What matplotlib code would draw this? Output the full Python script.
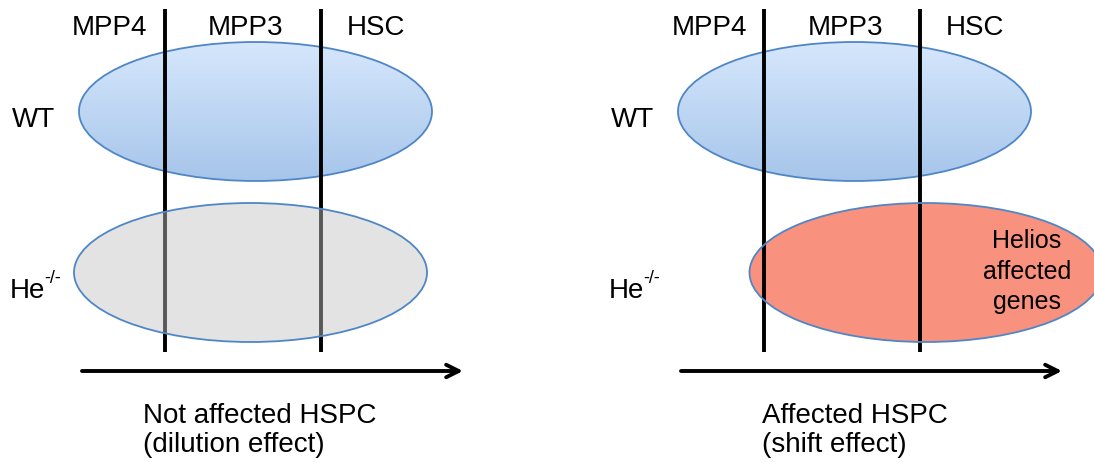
import numpy as np
import matplotlib
matplotlib.use("Agg")
import matplotlib.pyplot as plt
from matplotlib.patches import Ellipse
from matplotlib.colors import LinearSegmentedColormap

plt.rcParams['font.family'] = ['Liberation Sans', 'DejaVu Sans']

# ---- content ----
stages = ["MPP4", "MPP3", "HSC"]
genotypes = ["WT", "He", "-/-"]
panel_titles = [["Not affected HSPC", "(dilution effect)"], ["Affected HSPC", "(shift effect)"]]
highlight_lines = ["Helios", "affected", "genes"]

# ---- layout (pixels) ----
W, H = 1094, 464
panel_offsets = [0, 599]
stage_label_x = [110, 246, 376]
divider_x = [165, 321]
wt_center = (255.5, 112.5)
he_centers = [(250.5, 273.5), (926, 273.5)]
ell_w, ell_h = 353, 139
he_colors = [("#c2c2c2", 0.46), ("#f9917f", 1.0)]

fig = plt.figure(figsize=(W / 100, H / 100), dpi=100)
ax = fig.add_axes([0, 0, 1, 1])
ax.set_xlim(0, W)
ax.set_ylim(H, 0)
ax.axis('off')

edge = "#4f86c6"
grad = LinearSegmentedColormap.from_list("g", ["#d6e7fc", "#a6c5ea"])

for p, off in enumerate(panel_offsets):
    # WT ellipse with vertical gradient
    cx, cy = wt_center[0] + off, wt_center[1]
    e = Ellipse((cx, cy), ell_w, ell_h, facecolor='none', edgecolor='none')
    ax.add_patch(e)
    g = np.linspace(0, 1, 256).reshape(-1, 1)
    im = ax.imshow(g, cmap=grad, aspect='auto',
                   extent=(cx - ell_w / 2, cx + ell_w / 2, cy + ell_h / 2, cy - ell_h / 2),
                   zorder=1, interpolation='bilinear')
    im.set_clip_path(e)
    ax.add_patch(Ellipse((cx, cy), ell_w, ell_h, facecolor='none',
                         edgecolor=edge, lw=1.3, zorder=2))

    # divider lines
    for dx in divider_x:
        ax.plot([dx + off, dx + off], [10, 353], color='black', lw=2.8,
                solid_capstyle='butt', zorder=3)

    # He-/- ellipse
    hc, ha = he_colors[p]
    hx, hy = he_centers[p]
    if p == 0:
        ax.add_patch(Ellipse((hx, hy), ell_w, ell_h, facecolor=hc, alpha=ha,
                             edgecolor='none', zorder=4))
    else:
        ax.add_patch(Ellipse((hx, hy), ell_w, ell_h, facecolor=hc,
                             edgecolor='none', zorder=2.5))
    ax.add_patch(Ellipse((hx, hy), ell_w, ell_h, facecolor='none',
                         edgecolor=edge, lw=1.3, zorder=5))

    # stage labels
    for sx, s in zip(stage_label_x, stages):
        ax.text(sx + off, 35, s, fontsize=20, ha='center', va='baseline', zorder=6)

    # row labels
    ax.text(12 + off, 127, genotypes[0], fontsize=20, ha='left', va='baseline')
    ax.text(10 + off, 298, genotypes[1], fontsize=20, ha='left', va='baseline')
    ax.text(44 + off, 283, genotypes[2], fontsize=13, ha='left', va='baseline')

    # arrow
    ax.annotate("", xy=(463 + off, 372), xytext=(82 + off, 372),
                arrowprops=dict(arrowstyle='->,head_length=0.9,head_width=0.45',
                                lw=2.8, color='black', shrinkA=0, shrinkB=0))

    # panel caption
    tx = 143 if p == 0 else 163
    for line, by in zip(panel_titles[p], [423, 452]):
        ax.text(tx + off, by, line, fontsize=20, ha='left', va='baseline')

for line, by in zip(highlight_lines, [248, 279, 309]):
    ax.text(1027, by, line, fontsize=18, ha='center', va='baseline', zorder=6)

fig.savefig("out.png", dpi=100)
